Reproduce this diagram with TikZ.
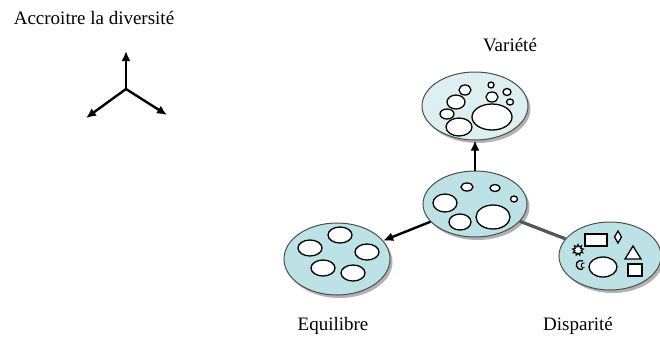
\documentclass[tikz,border=0pt]{standalone}
\usepackage{fontspec}
\setmainfont{Liberation Serif}
\definecolor{divfill}{HTML}{BDE2E5}
\definecolor{divpale}{HTML}{DDEFF0}
\definecolor{divedge}{HTML}{4D4D4D}
\definecolor{divlink}{HTML}{555555}
\usetikzlibrary{arrows.meta,positioning,shapes.geometric,shadows}

\begin{document}
\begin{tikzpicture}[x=1pt,y=-1pt,font=\fontsize{19}{22}\selectfont]
        \tikzset{
            divpool/.style={
                ellipse,
                draw=divedge,
                fill=divfill,
                line width=1pt,
                inner sep=0pt,
                drop shadow={shadow xshift=2.5pt,shadow yshift=-3pt,
                    fill=black,opacity=0.3}
            },
            divpoolpale/.style={
                divpool,
                fill=divpale
            },
            divblob/.style={
                draw=black,
                fill=white,
                line width=1.3pt
            },
            divarrow/.style={
                -{Latex[length=10pt,width=9pt]},
                draw=black,
                line width=2.4pt
            },
            divtie/.style={
                draw=divlink,
                line width=3.2pt
            },
            divlabel/.style={
                inner sep=0pt
            }
        }
        \useasboundingbox (0,0) rectangle (660,338);

        \node[divlabel] (title) at (94,18) {Accroitre la diversité};

        % small three-way symbol
        \coordinate (hub) at (126,89);
        \coordinate (hubup) at (126,51);
        \coordinate (hubleft) at (86,118);
        \coordinate (hubright) at (167,115);
        \draw[divarrow] (hub) -- (hubup);
        \draw[divarrow] (hub) -- (hubleft);
        \draw[divarrow] (hub) -- (hubright);

        % the four pools
        \node[divpoolpale,minimum width=106pt,minimum height=68pt]
            (variete) at (475,106) {};
        \node[divpool,minimum width=104pt,minimum height=66pt]
            (centre) at (475,204) {};
        \node[divpool,minimum width=106pt,minimum height=72pt]
            (equilibre) at (337,259) {};
        \node[divpool,minimum width=102pt,minimum height=68pt]
            (disparite) at (610,256) {};

        \node[divlabel] (lblvariete) at (510,45) {Variété};
        \node[divlabel] (lblequilibre) at (333,326) {Equilibre};
        \node[divlabel] (lbldisparite) at (578,326) {Disparité};

        \draw[divarrow] (centre) -- (variete);
        \draw[divarrow] (centre) -- (equilibre);
        \draw[divtie] (centre) -- (disparite);

        % blobs of the centre pool
        \draw[divblob] (467,187) ellipse [x radius=6,y radius=4];
        \draw[divblob] (495,188) ellipse [x radius=5,y radius=3.5];
        \draw[divblob] (514,199) ellipse [x radius=3.5,y radius=3];
        \draw[divblob] (445,203) ellipse [x radius=12,y radius=9];
        \draw[divblob] (460,222) ellipse [x radius=11,y radius=8];
        \draw[divblob] (493,217) ellipse [x radius=17,y radius=12];

        % blobs of variete
        \draw[divblob] (491,85) ellipse [x radius=3,y radius=3];
        \draw[divblob] (507,92) ellipse [x radius=4,y radius=3.5];
        \draw[divblob] (510,102) ellipse [x radius=3.5,y radius=3];
        \draw[divblob] (492,97) ellipse [x radius=6,y radius=5];
        \draw[divblob] (465,90) ellipse [x radius=6,y radius=5];
        \draw[divblob] (456,102) ellipse [x radius=9,y radius=7];
        \draw[divblob] (447,114) ellipse [x radius=7,y radius=5];
        \draw[divblob] (459,127) ellipse [x radius=13,y radius=9];
        \draw[divblob] (492,117) ellipse [x radius=20,y radius=13];

        % blobs of equilibre
        \draw[divblob] (340,235) ellipse [x radius=12,y radius=8];
        \draw[divblob] (310,248) ellipse [x radius=12,y radius=8];
        \draw[divblob] (367,252) ellipse [x radius=12,y radius=8];
        \draw[divblob] (323,268) ellipse [x radius=12,y radius=8];
        \draw[divblob] (353,273) ellipse [x radius=12,y radius=8];

        % shapes of disparite
        \draw[divblob] (585,234) rectangle (607,246);
        \draw[divblob] (618,231) -- (621.5,237) -- (618,243) -- (614.5,237) -- cycle;
        \draw[divblob] (625,259) -- (641,259) -- (633,246) -- cycle;
        \draw[divblob,line width=2.2pt] (628,264) rectangle (642,276);
        \draw[divblob] (603,267) ellipse [x radius=14,y radius=10];
        \node[star,star points=9,star point ratio=1.7,minimum size=11pt,
            inner sep=0pt,draw=black,fill=white,line width=1.1pt] (sun) at (578,250) {};
        \draw[line width=1.3pt] (583,261) arc[start angle=-60,end angle=-300,radius=4.5];
        \draw[line width=0.9pt] (584.5,263) arc[start angle=-70,end angle=-290,radius=2.5];
    \end{tikzpicture}
\end{document}
